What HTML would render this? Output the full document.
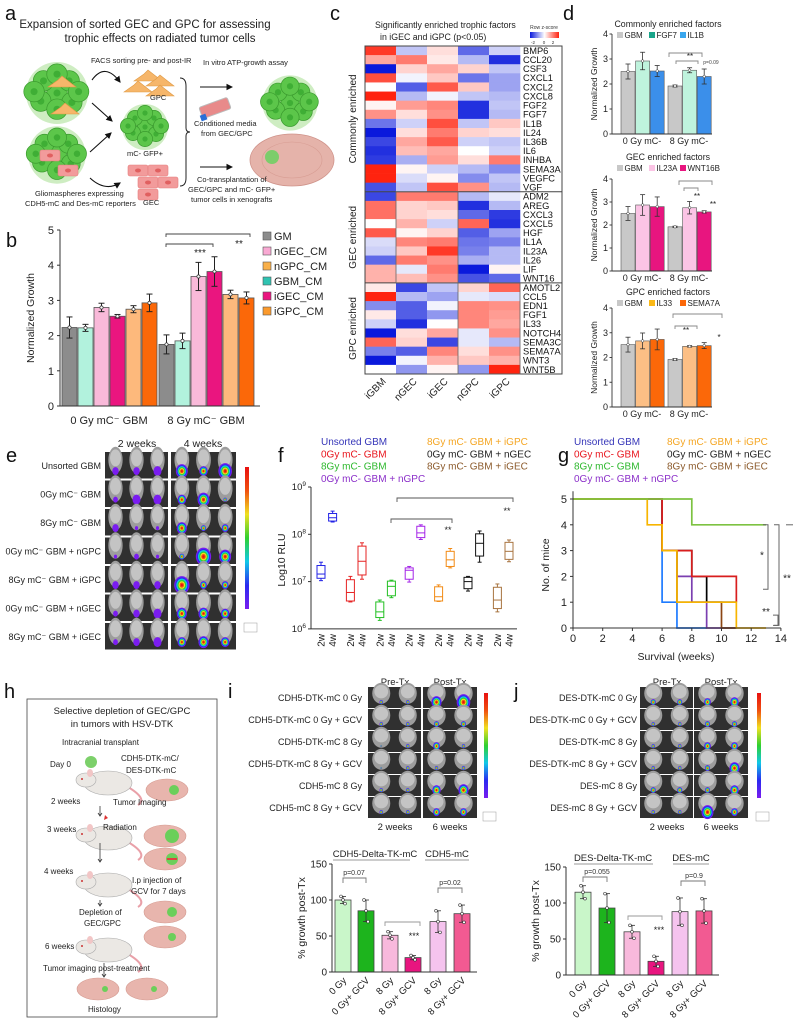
<!DOCTYPE html>
<html><head><meta charset="utf-8">
<style>
body{margin:0;background:#fff}
svg{display:block;font-family:"Liberation Sans",Arial,sans-serif}
</style></head>
<body>
<svg id="fig" width="793" height="1019" viewBox="0 0 793 1019" xmlns="http://www.w3.org/2000/svg">
<rect width="793" height="1019" fill="#fff"/>
<g font-size="20" fill="#111">
<text x="5" y="20">a</text><text x="6" y="247">b</text><text x="330" y="20">c</text><text x="563" y="20">d</text>
<text x="6" y="462">e</text><text x="278" y="462">f</text><text x="558" y="462">g</text>
<text x="4" y="698">h</text><text x="228" y="698">i</text><text x="514" y="698">j</text>
</g>
<g id="aart"></g>
<g fill="#222">
<text x="145" y="28" font-size="11.5" text-anchor="middle">Expansion of sorted GEC and GPC for assessing</text>
<text x="160" y="42" font-size="11.5" text-anchor="middle">trophic effects on radiated tumor cells</text>
<text x="91" y="63" font-size="7.5">FACS sorting pre- and post-IR</text>
<text x="203" y="65" font-size="7.5">In vitro ATP-growth assay</text>
<text x="150" y="100" font-size="7.5">GPC</text>
<text x="127" y="156" font-size="7.5">mC- GFP+</text>
<text x="143" y="205" font-size="7.5">GEC</text>
<text x="35" y="196" font-size="7.5">Gliomaspheres expressing</text>
<text x="25" y="206" font-size="7.5">CDH5-mC and Des-mC reporters</text>
<text x="194" y="126" font-size="7.5">Conditioned media</text>
<text x="201" y="136" font-size="7.5">from GEC/GPC</text>
<text x="197" y="182" font-size="7.5">Co-transplantation of</text>
<text x="188" y="192" font-size="7.5">GEC/GPC and mC- GFP+</text>
<text x="191" y="202" font-size="7.5">tumor cells in xenografts</text>
</g>
<rect x="27" y="699" width="190" height="318" fill="none" stroke="#444" stroke-width="0.8"/>
<g id="hart"></g>
<g fill="#222" font-size="8">
<text x="122" y="714" font-size="9.5" text-anchor="middle">Selective depletion of GEC/GPC</text>
<text x="122" y="727" font-size="9.5" text-anchor="middle">in tumors with HSV-DTK</text>
<text x="62" y="745">Intracranial transplant</text>
<text x="50" y="767">Day 0</text>
<text x="121" y="761">CDH5-DTK-mC/</text>
<text x="126" y="773">DES-DTK-mC</text>
<text x="51" y="804">2 weeks</text>
<text x="113" y="805">Tumor Imaging</text>
<text x="47" y="832">3 weeks</text>
<text x="103" y="830">Radiation</text>
<text x="44" y="874">4 weeks</text>
<text x="132" y="883">I.p injection of</text>
<text x="131" y="894">GCV for 7 days</text>
<text x="79" y="915">Depletion of</text>
<text x="84" y="926">GEC/GPC</text>
<text x="45" y="949">6 weeks</text>
<text x="43" y="971">Tumor imaging post-treatment</text>
<text x="88" y="1012">Histology</text>
</g>
<g id="charts"></g>
</svg>
<script>
// ===== DATA =====
const bGroups = ['0 Gy mC\u207B GBM', '8 Gy mC\u207B GBM'];
const bSeries = ['GM', 'GBM_CM', 'nGEC_CM', 'iGEC_CM', 'nGPC_CM', 'iGPC_CM'];
const bVals0 = [2.23, 2.22, 2.80, 2.55, 2.75, 2.93];
const bVals8 = [1.75, 1.85, 3.68, 3.82, 3.17, 3.07];
const bErr0 = [0.30, 0.10, 0.12, 0.05, 0.10, 0.25];
const bErr8 = [0.27, 0.22, 0.40, 0.42, 0.12, 0.17];
const bTicks = [0, 1, 2, 3, 4, 5];
const bLegend = ['GM', 'nGEC_CM', 'nGPC_CM', 'GBM_CM', 'iGEC_CM', 'iGPC_CM'];
const hmCols = ['iGBM', 'nGEC', 'iGEC', 'nGPC', 'iGPC'];
const hmRows = ['BMP6','CCL20','CSF3','CXCL1','CXCL2','CXCL8','FGF2','FGF7','IL1B','IL24','IL36B','IL6','INHBA','SEMA3A','VEGFC','VGF',
 'ADM2','AREG','CXCL3','CXCL5','HGF','IL1A','IL23A','IL26','LIF','WNT16',
 'AMOTL2','CCL5','EDN1','FGF1','IL33','NOTCH4','SEMA3C','SEMA7A','WNT3','WNT5B'];
const hmVals = [
[1.8,-0.5,0.3,-1.3,-0.4],[0.8,1.2,0.2,-0.6,-1.8],[-2,0.4,0.8,0.4,-0.5],[1.6,-0.1,0.5,-1.2,-0.8],
[0,-1.4,1.5,0.5,-0.8],[2,-0.6,-0.1,-0.5,-0.6],[0.1,0.9,1.1,-1.8,-0.5],[1.0,0.3,1.0,-1.8,-0.6],
[-1.2,-0.4,1.6,-0.5,0.5],[-2,0.3,1.2,0.4,0.3],[-1.6,0.8,1.5,-0.4,-0.5],[-1.8,0.6,0.8,0,-0.4],
[-1.7,-0.7,0.9,0.3,1.2],[2,0.1,-0.4,-0.6,-1.0],[2,-0.3,0.1,-1.0,-0.5],[-1.5,-0.5,1.6,1.0,-0.6],
[-1.6,1.2,1.2,-0.6,-0.2],[1.3,0.4,0.5,-1.8,-0.6],[1.3,0.4,0.3,-1.3,-1.7],[0,0.7,-0.4,1.4,-1.8],
[1.5,0.1,0.4,-1.4,-0.8],[-0.3,1.1,1.2,-1.2,-1.1],[-0.4,0.5,1.8,-1.1,-0.6],[-1.3,1.2,1.0,-0.7,-0.6],
[0.7,-0.2,1.2,-2,0.1],[0.7,0.6,1.0,-1.5,-1.3],
[0.2,-1.6,-0.5,0.4,1.4],[2,-0.6,-0.8,-0.2,-0.3],[-1.0,-1.4,-0.1,1.1,1.0],[0.2,-1.4,-0.9,1.1,0.9],
[-0.4,-1.8,0,1.1,0.8],[-2,0.3,0.8,-0.2,1.0],[1.4,0.4,-1.6,-0.2,-0.6],[-1.1,-1.4,1.1,0.3,1.0],
[-2,-0.1,0.7,0.5,0.7],[0,-0.9,0.1,-0.9,2]];
const hmGroups = ['Commonly enriched', 'GEC enriched', 'GPC enriched'];
const hmGroupSizes = [16, 10, 10];
const dTitles = ['Commonly enriched factors', 'GEC enriched factors', 'GPC enriched factors'];
const dLegend1 = ['GBM', 'FGF7', 'IL1B'];
const dLegend2 = ['GBM', 'IL23A', 'WNT16B'];
const dLegend3 = ['GBM', 'IL33', 'SEMA7A'];
const dGroups = ['0 Gy mC-', '8 Gy mC-'];
const dVals1 = [[2.5, 2.92, 2.52], [1.92, 2.55, 2.3]];
const dErr1 = [[0.3, 0.35, 0.22], [0.04, 0.1, 0.3]];
const dVals2 = [[2.5, 2.87, 2.8], [1.92, 2.75, 2.57]];
const dErr2 = [[0.3, 0.45, 0.42], [0.03, 0.27, 0.05]];
const dVals3 = [[2.52, 2.67, 2.73], [1.92, 2.45, 2.48]];
const dErr3 = [[0.3, 0.32, 0.42], [0.04, 0.03, 0.12]];
const dTicks = [0, 1, 2, 3, 4];
const fCats = ['2w','4w','2w','4w','2w','4w','2w','4w','2w','4w','2w','4w','2w','4w'];
const fWhiskHi = [7.41,8.49,7.11,7.82,6.61,7.03,7.32,8.20,6.93,7.70,7.11,8.07,6.95,7.88];
const fQ3 =      [7.34,8.44,7.04,7.75,6.57,7.01,7.29,8.17,6.89,7.64,7.09,8.01,6.88,7.83];
const fMed =     [7.16,8.35,6.77,7.43,6.36,6.90,7.24,8.03,6.68,7.46,7.00,7.81,6.61,7.64];
const fQ1 =      [7.07,8.28,6.59,7.14,6.24,6.70,7.05,7.93,6.59,7.32,6.85,7.54,6.43,7.47];
const fWhiskLo = [7.02,8.26,6.57,7.05,6.18,6.66,6.99,7.89,6.58,7.29,6.80,7.41,6.36,7.42];
const fTicks = [6, 7, 8, 9];
const fLegendL = ['Unsorted GBM', '0Gy mC- GBM', '8Gy mC- GBM', '0Gy mC- GBM + nGPC'];
const fLegendR = ['8Gy mC- GBM + iGPC', '0Gy mC- GBM + nGEC', '8Gy mC- GBM + iGEC'];
const gTimesBlue = [0, 6, 7, 9];        const gCountsBlue = [5, 1, 0, 0];
const gTimesRed = [0, 6, 8, 11];        const gCountsRed = [5, 3, 2, 1];
const gTimesPurple = [0, 6, 7, 8, 9, 11]; const gCountsPurple = [5, 3, 2, 1, 0, 0];
const gTimesBlack = [0, 6, 8, 9, 11];   const gCountsBlack = [5, 3, 2, 1, 1];
const gTimesBrown = [0, 6, 7, 10, 11];  const gCountsBrown = [5, 3, 1, 0, 0];
const gTimesYellow = [0, 5, 6, 7, 11, 13]; const gCountsYellow = [5, 4, 3, 1, 0, 0];
const gTimesGreen = [0, 8, 13];         const gCountsGreen = [5, 4, 4];
const gXTicks = [0, 2, 4, 6, 8, 10, 12, 14];
const gYTicks = [0, 1, 2, 3, 4, 5];
const ijCats = ['0 Gy', '0 Gy+ GCV', '8 Gy', '8 Gy+ GCV', '8 Gy', '8 Gy+ GCV'];
const iVals = [100, 85, 51, 20, 70, 81];
const iErr = [5, 15, 5, 3, 15, 12];
const jVals = [115, 93, 60, 19, 88, 89];
const jErr = [9, 20, 9, 7, 19, 17];
const ijTicks = [0, 50, 100, 150];
const iRowLabels = ['CDH5-DTK-mC 0 Gy','CDH5-DTK-mC 0 Gy + GCV','CDH5-DTK-mC 8 Gy','CDH5-DTK-mC 8 Gy + GCV','CDH5-mC 8 Gy','CDH5-mC 8 Gy + GCV'];
const jRowLabels = ['DES-DTK-mC 0 Gy','DES-DTK-mC 0 Gy + GCV','DES-DTK-mC 8 Gy','DES-DTK-mC 8 Gy + GCV','DES-mC 8 Gy','DES-mC 8 Gy + GCV'];
const eRowLabels = ['Unsorted GBM','0Gy mC\u207B GBM','8Gy mC\u207B GBM','0Gy mC\u207B GBM + nGPC','8Gy mC\u207B GBM + iGPC','0Gy mC\u207B GBM + nGEC','8Gy mC\u207B GBM + iGEC'];

// ===== HELPERS =====
const NS = 'http://www.w3.org/2000/svg';
const root = document.getElementById('charts');
function el(tag, attrs, parent) {
  const e = document.createElementNS(NS, tag);
  for (const k in attrs) e.setAttribute(k, attrs[k]);
  (parent || root).appendChild(e);
  return e;
}
function txt(x, y, s, size, anchor, fill, parent, extra) {
  const t = el('text', Object.assign({x: x, y: y, 'font-size': size, 'text-anchor': anchor || 'start', fill: fill || '#222'}, extra || {}), parent);
  t.textContent = s;
  return t;
}
function line(x1, y1, x2, y2, stroke, w, parent) {
  return el('line', {x1: x1, y1: y1, x2: x2, y2: y2, stroke: stroke || '#333', 'stroke-width': w || 1}, parent);
}
function bracket(x1, x2, y, drop, parent, color) {
  const p = el('path', {d: `M${x1},${y + drop}V${y}H${x2}V${y + drop}`, fill: 'none', stroke: color || '#555', 'stroke-width': 0.9}, parent);
  
  
  return p;
}

// ===== PANEL B =====
(function () {
  const g = el('g', {});
  
  
  const y0 = 406, unit = 35.2, ax = 60, axEnd = 260;
  const y = v => y0 - v * unit;
  const colors = ['#8c8c8c', '#b2f2dd', '#f9b9d9', '#ea157f', '#fdb97c', '#fb6809'];
  const starts = [62, 159];
  const vals = [bVals0, bVals8], errs = [bErr0, bErr8];
  vals.forEach((vs, gi) => {
    vs.forEach((v, i) => {
      const x = starts[gi] + i * 16;
      const r = el('rect', {x: x, y: y(v), width: 15, height: y0 - y(v), fill: colors[i], stroke: '#555', 'stroke-width': 0.8}, g);
      
      
      const cx = x + 7.5, e = errs[gi][i];
      line(cx, y(v + e), cx, y(v - e), '#222', 1, g);
      line(cx - 3, y(v + e), cx + 3, y(v + e), '#222', 1, g);
      line(cx - 3, y(v - e), cx + 3, y(v - e), '#222', 1, g);
      el('circle', {cx: cx, cy: y(v), r: 1.6, fill: '#fff', stroke: '#333', 'stroke-width': 0.7}, g);
    });
    txt(starts[gi] + 47, 424, bGroups[gi], 11, 'middle', '#222', g);
  });
  line(ax, y(5), ax, y0, '#333', 1, g);
  line(ax, y0, axEnd, y0, '#333', 1, g);
  bTicks.forEach(t => {
    line(ax - 3, y(t), ax, y(t), '#333', 1, g);
    txt(ax - 6, y(t) + 4, String(t), 11, 'end', '#222', g);
  });
  const yt = txt(34, 318, 'Normalized Growth', 10.5, 'middle', '#222', g, {transform: 'rotate(-90 34 318)'});
  
  
  bracket(166, 250, 234, 3, g, '#444');
  bracket(166, 213, 244, 3, g, '#444');
  txt(239, 247, '**', 10, 'middle', '#222', g);
  txt(200, 256, '***', 10, 'middle', '#222', g);
  const lcol = ['#8c8c8c', '#f9a9d3', '#f9b04a', '#2fc3b1', '#ea157f', '#fb9a2c'];
  bLegend.forEach((s, i) => {
    const ly = 236 + i * 15;
    const r = el('rect', {x: 263, y: ly - 4, width: 8, height: 8, fill: lcol[i], stroke: '#555', 'stroke-width': 0.6}, g);
    
    
    txt(274, ly + 4, s, 11, 'start', '#222', g);
  });
})();

// ===== PANEL C HEATMAP =====
(function () {
  const g = el('g', {});
  
  
  const x0 = 365, y0 = 46, cw = 31, rh = 328 / hmRows.length;
  function col(z) {
    const t = Math.max(-1, Math.min(1, z / 2));
    let r, gg, b;
    if (t < 0) { const a = -t; r = 255 - a * 245; gg = 255 - a * 230; b = 255 - a * 35; }
    else { const a = t; r = 255; gg = 255 - a * 220; b = 255 - a * 240; }
    return `rgb(${r | 0},${gg | 0},${b | 0})`;
  }
  hmVals.forEach((row, ri) => {
    row.forEach((v, ci) => {
      const r = el('rect', {x: x0 + ci * cw, y: y0 + ri * rh, width: cw + 0.3, height: rh + 0.3, fill: col(v)}, g);
      
      
    });
    txt(x0 + 5 * cw + 3, y0 + ri * rh + rh - 1.2, hmRows[ri], 9.3, 'start', '#111', g);
  });
  el('rect', {x: x0, y: y0, width: 197, height: 328, fill: 'none', stroke: '#444', 'stroke-width': 1}, g);
  let acc = 0;
  hmGroups.forEach((name, gi) => {
    const top = y0 + acc * rh, h = hmGroupSizes[gi] * rh;
    if (gi > 0) line(x0, top, x0 + 197, top, '#444', 1, g);
    const cy = top + h / 2;
    const t = txt(356, cy, name, 10, 'middle', '#222', g, {transform: `rotate(-90 356 ${cy})`});
    
    
    acc += hmGroupSizes[gi];
  });
  el('rect', {x: x0 + cw, y: y0 + 16 * rh, width: 2 * cw, height: 10 * rh, fill: 'none', stroke: '#666', 'stroke-width': 0.8}, g);
  el('rect', {x: x0 + 3 * cw, y: y0 + 26 * rh, width: 2 * cw, height: 10 * rh, fill: 'none', stroke: '#666', 'stroke-width': 0.8}, g);
  hmCols.forEach((c, ci) => {
    const cx = x0 + ci * cw + cw / 2 + 6, cy = 382;
    const t = txt(cx, cy, c, 10, 'end', '#222', g, {transform: `rotate(-45 ${cx} ${cy})`});
    
    
  });
  txt(375, 28, 'Significantly enriched trophic factors', 8.8, 'start', '#222', g);
  txt(380, 40, 'in iGEC and iGPC (p<0.05)', 8.8, 'start', '#222', g);
  const defs = el('defs', {}, g);
  const lg = el('linearGradient', {id: 'zgrad', x1: 0, x2: 1, y1: 0, y2: 0}, defs);
  el('stop', {offset: '0', 'stop-color': '#0a19dc'}, lg);
  el('stop', {offset: '0.5', 'stop-color': '#ffffff'}, lg);
  el('stop', {offset: '1', 'stop-color': '#ff2310'}, lg);
  const cb = el('rect', {x: 530, y: 32, width: 29, height: 6, fill: 'url(#zgrad)'}, g);
  
  
  txt(544, 29, 'Row z-score', 5, 'middle', '#333', g);
  txt(533, 44, '-2', 4.5, 'middle', '#333', g);
  txt(544, 44, '0', 4.5, 'middle', '#333', g);
  txt(553, 44, '2', 4.5, 'middle', '#333', g);
})();

// ===== PANEL D =====
function dChart(vals, errs, legend, title, y0, unit, titleY, colors, lcolors, sigs, name) {
  const g = el('g', {});
  
  
  const ax = 612, y = v => y0 - v * unit;
  txt(668, titleY, title, 8.8, 'middle', '#222', g);
  const lx = [617, 649, 680];
  legend.forEach((s, i) => {
    const r = el('rect', {x: lx[i], y: titleY + 5, width: 6, height: 6, fill: lcolors[i]}, g);
    
    
    txt(lx[i] + 7.5, titleY + 11, s, 8, 'start', '#222', g);
  });
  const starts = [621, 668];
  vals.forEach((vs, gi) => {
    vs.forEach((v, i) => {
      const x = starts[gi] + i * 14.6;
      const r = el('rect', {x: x, y: y(v), width: 14, height: y0 - y(v), fill: colors[i], stroke: '#555', 'stroke-width': 0.6}, g);
      
      
      const cx = x + 7, e = errs[gi][i];
      line(cx, y(v + e), cx, y(v - e), '#333', 0.8, g);
      line(cx - 2.5, y(v + e), cx + 2.5, y(v + e), '#333', 0.8, g);
      line(cx - 2.5, y(v - e), cx + 2.5, y(v - e), '#333', 0.8, g);
      el('circle', {cx: cx, cy: y(v), r: 1.3, fill: '#fff', stroke: '#333', 'stroke-width': 0.5}, g);
    });
    txt(starts[gi] + 21, y0 + 10, dGroups[gi], 9, 'middle', '#222', g);
  });
  line(ax, y(4), ax, y0, '#333', 0.9, g);
  line(ax, y0, 712, y0, '#333', 0.9, g);
  dTicks.forEach(t => {
    line(ax - 2.5, y(t), ax, y(t), '#333', 0.9, g);
    txt(ax - 4, y(t) + 3, String(t), 9, 'end', '#222', g);
  });
  const cy = y(2);
  txt(597, cy, 'Normalized Growth', 8.5, 'middle', '#222', g, {transform: `rotate(-90 597 ${cy})`});
  sigs(g, y);
}
dChart(dVals1, dErr1, dLegend1, dTitles[0], 134, 25, 27, ['#c8c8c8', '#bff3dd', '#3b8fea'], ['#c8c8c8', '#1aa58a', '#3aa7ee'], (g, y) => {
  bracket(669, 702, 53, 4, g, '#888'); bracket(676, 698, 61, 3, g, '#888');
  txt(690, 59, '**', 8, 'middle', '#222', g); txt(711, 64, 'p=0.09', 5, 'middle', '#444', g);
}, 'panel-d-common-chart');
dChart(dVals2, dErr2, dLegend2, dTitles[1], 271, 23, 160, ['#c8c8c8', '#fbc4e5', '#e8157f'], ['#c8c8c8', '#fbc4e5', '#e8157f'], (g, y) => {
  bracket(679, 712, 181, 4, g, '#888'); bracket(684, 698, 188, 3, g, '#888');
  txt(697, 199, '**', 8, 'middle', '#222', g); txt(713, 207, '**', 8, 'middle', '#222', g);
}, 'panel-d-gec-chart');
dChart(dVals3, dErr3, dLegend3, dTitles[2], 407, 24.75, 295, ['#c8c8c8', '#fcbf85', '#fb6809'], ['#c8c8c8', '#fbb917', '#fb6809'], (g, y) => {
  bracket(673, 722, 314, 4, g, '#888'); bracket(675, 697, 326, 3, g, '#888');
  txt(686, 333, '**', 8, 'middle', '#222', g); txt(719, 340, '*', 8, 'middle', '#222', g);
}, 'panel-d-gpc-chart');

// ===== MOUSE IMAGING =====
const hotColors = ['#7a1cf0', '#2a2af0', '#10c8e8', '#30d030', '#f0e020', '#f05010', '#e81010'];
function blob(cx, cy, r, hot, parent) {
  if (r <= 0) return;
  if (!hot) { el('ellipse', {cx: cx, cy: cy, rx: r * 0.8, ry: r, fill: '#7a1cf0'}, parent); return; }
  const n = hotColors.length;
  for (let k = 0; k < n; k++) {
    const f = 1 - k / n;
    el('ellipse', {cx: cx, cy: cy, rx: r * 0.85 * f, ry: r * f, fill: hotColors[k]}, parent);
  }
}
function imgBlock(x, y, w, h, sizes, hot, name) {
  const g = el('g', {});
  
  
  el('rect', {x: x, y: y, width: w, height: h, fill: '#303030'}, g);
  const n = sizes.length, sw = w / n;
  sizes.forEach((s, k) => {
    const cx = x + sw * (k + 0.5);
    el('ellipse', {cx: cx, cy: y + h * 0.3, rx: sw * 0.34, ry: h * 0.5, fill: '#9d9d9d'}, g);
    el('ellipse', {cx: cx, cy: y + h * 0.22, rx: sw * 0.26, ry: h * 0.32, fill: '#c4c4c4'}, g);
    blob(cx, y + h * 0.72, s, hot, g);
  });
}
function colorBar(x, y, h, name) {
  const defs = el('defs', {});
  const id = 'cb' + name;
  const lg = el('linearGradient', {id: id, x1: 0, x2: 0, y1: 1, y2: 0}, defs);
  hotColors.forEach((c, i) => el('stop', {offset: String(i / (hotColors.length - 1)), 'stop-color': c}, lg));
  const r = el('rect', {x: x, y: y, width: 4, height: h, fill: `url(#${id})`});
  
  
  el('rect', {x: x - 1, y: y + h + 14, width: 13, height: 9, fill: '#fff', stroke: '#999', 'stroke-width': 0.5});
}
const e2w = [[4,4,5],[3,5,5],[4,2,2],[2,3,2],[4,4,4],[3,4,5],[3,4,5]];
const e4w = [[7,5,8],[5,7,2],[6,3,4],[3,9,7],[9,4,4],[6,6,5],[5,6,5]];
txt(137, 447, '2 weeks', 10.5, 'middle', '#222');
txt(203, 447, '4 weeks', 10.5, 'middle', '#222');
eRowLabels.forEach((s, i) => {
  const yy = 452 + i * 28.5;
  imgBlock(105, yy, 63, 26.5, e2w[i], false, 'e-image-2w-row' + i);
  imgBlock(171, yy, 65, 26.5, e4w[i], true, 'e-image-4w-row' + i);
  txt(101, yy + 17, s, 9, 'end', '#222');
});
colorBar(245, 467, 142, 'e-colorbar');

const iPre = [[2,2],[2,2],[1,2],[1,2],[2,2],[2,2]];
const iPost = [[6,8],[3,3],[4,2],[2,2],[5,6],[4,4]];
const jPre = [[3,3],[2,2],[2,2],[2,2],[3,3],[2,2]];
const jPost = [[4,5],[3,3],[4,4],[3,6],[3,5],[7,4]];
function ijImages(lbls, pre, post, xLab, xPre, xPost, cbx, prefix) {
  txt(xPre + 27, 685, 'Pre-Tx', 9.5, 'middle', '#222');
  txt(xPost + 27, 685, 'Post-Tx', 9.5, 'middle', '#222');
  lbls.forEach((s, i) => {
    const yy = 687 + i * 22;
    imgBlock(xPre, yy, 53, 21, pre[i], true, prefix + '-pre-row' + i);
    imgBlock(xPost, yy, 54, 21, post[i], true, prefix + '-post-row' + i);
    txt(xLab, yy + 14, s, 9, 'end', '#222');
  });
  txt(xPre + 27, 830, '2 weeks', 9.5, 'middle', '#222');
  txt(xPost + 27, 830, '6 weeks', 9.5, 'middle', '#222');
  colorBar(cbx, 693, 105, prefix + '-colorbar');
}
ijImages(iRowLabels, iPre, iPost, 362, 368, 423, 484, 'i');
ijImages(jRowLabels, jPre, jPost, 637, 640, 694, 757, 'j');

// ===== PANEL F =====
(function () {
  const g = el('g', {});
  
  
  const ax = 311, yTop = 487, dec = 47.3;
  const y = v => yTop + (9 - v) * dec;
  const x = i => 321 + Math.floor(i / 2) * 29.4 + (i % 2) * 11.6;
  const cols = ['#2323e6', '#e62323', '#22c022', '#a424e8', '#f28a14', '#111111', '#a87440'];
  line(ax, y(9), ax, y(6), '#333', 1, g);
  line(ax, y(6), 517, y(6), '#333', 1, g);
  fTicks.forEach(t => {
    line(ax - 3, y(t), ax, y(t), '#333', 1, g);
    const tt = txt(ax - 5, y(t) + 3, '10', 9.5, 'end', '#222', g);
    const sp = el('tspan', {dy: -4, 'font-size': 6.5}, tt);
    sp.textContent = String(t);
  });
  fCats.forEach((c, i) => {
    const cx = x(i), col = cols[Math.floor(i / 2)];
    const b = el('g', {}, g);
    
    
    line(cx, y(fWhiskHi[i]), cx, y(fWhiskLo[i]), col, 1, b);
    line(cx - 2, y(fWhiskHi[i]), cx + 2, y(fWhiskHi[i]), col, 1, b);
    line(cx - 2, y(fWhiskLo[i]), cx + 2, y(fWhiskLo[i]), col, 1, b);
    el('rect', {x: cx - 4, y: y(fQ3[i]), width: 8, height: y(fQ1[i]) - y(fQ3[i]), fill: '#fff', stroke: col, 'stroke-width': 1}, b);
    line(cx - 4, y(fMed[i]), cx + 4, y(fMed[i]), col, 1, b);
    txt(cx + 3.5, 634, c, 10, 'end', '#222', g, {transform: `rotate(-90 ${cx + 3.5} 634)`});
  });
  txt(285, 560, 'Log10 RLU', 10.5, 'middle', '#222', g, {transform: 'rotate(-90 285 560)'});
  bracket(397, 513, 498, 4, g, '#555');
  bracket(391, 452, 519, 4, g, '#555');
  txt(507, 514, '**', 9, 'middle', '#222', g);
  txt(448, 533, '**', 9, 'middle', '#222', g);
  const lcolL = ['#3535b8', '#e8141c', '#2db82d', '#8b2fc9'];
  const lcolR = ['#f5a623', '#222222', '#8b5a2b'];
  fLegendL.forEach((s, i) => txt(321, 445 + i * 12.3, s, 10, 'start', lcolL[i], g));
  fLegendR.forEach((s, i) => txt(427, 445 + i * 12.3, s, 10, 'start', lcolR[i], g));
})();

// ===== PANEL G =====
(function () {
  const g = el('g', {});
  
  
  const ax = 573, y0 = 628, unit = 25.8, wk = 14.85;
  const x = t => ax + t * wk, y = v => y0 - v * unit;
  const series = [
    ['unsorted', gTimesBlue, gCountsBlue, '#1e7bff'],
    ['0gy-ngec', gTimesBlack, gCountsBlack, '#000000'],
    ['0gy-ngpc', gTimesPurple, gCountsPurple, '#7b3fb0'],
    ['8gy-igec', gTimesBrown, gCountsBrown, '#8b4513'],
    ['0gy', gTimesRed, gCountsRed, '#d81e1e'],
    ['8gy-igpc', gTimesYellow, gCountsYellow, '#f7b500'],
    ['8gy', gTimesGreen, gCountsGreen, '#7dc242']];
  series.forEach(([nm, ts, cs, col]) => {
    let d = `M${x(ts[0])},${y(cs[0])}`;
    for (let k = 1; k < ts.length; k++) d += `H${x(ts[k])}V${y(cs[k])}`;
    const p = el('path', {d: d, fill: 'none', stroke: col, 'stroke-width': 1.7}, g);
    
    
  });
  line(ax, y(5.3), ax, y0, '#333', 1, g);
  line(ax, y0, x(14), y0, '#333', 1, g);
  gYTicks.forEach(t => { line(ax - 3, y(t), ax, y(t), '#333', 1, g); txt(ax - 6, y(t) + 4, String(t), 11, 'end', '#222', g); });
  gXTicks.forEach(t => { line(x(t), y0, x(t), y0 + 3, '#333', 1, g); txt(x(t), y0 + 14, String(t), 11, 'middle', '#222', g); });
  txt(676, 660, 'Survival (weeks)', 10.5, 'middle', '#222', g);
  txt(549, 565, 'No. of  mice', 10.5, 'middle', '#222', g, {transform: 'rotate(-90 549 565)'});
  const br = (x1, y1, y2) => el('path', {d: `M${x1 - 5},${y1}H${x1}V${y2}H${x1 - 5}`, fill: 'none', stroke: '#666', 'stroke-width': 1}, g);
  br(768, y(4), y(1.5)); txt(762, y(2.7), '*', 10, 'middle', '#222', g);
  br(779, y(4), y(0.1)); txt(787, y(1.8), '**', 10, 'middle', '#222', g);
  br(778, y(0.5), y(0.1)); txt(766, y(0.5), '**', 10, 'middle', '#222', g);
  el('path', {d: `M786,${y(4)}H793`, fill: 'none', stroke: '#666', 'stroke-width': 1}, g);
  const lcolL = ['#3535b8', '#e8141c', '#2db82d', '#8b2fc9'];
  const lcolR = ['#f5a623', '#222222', '#8b5a2b'];
  const gl = ['Unsorted GBM', '0Gy mC- GBM', '8Gy mC- GBM', '0Gy mC- GBM + nGPC'];
  const gr = ['8Gy mC- GBM + iGPC', '0Gy mC- GBM + nGEC', '8Gy mC- GBM + iGEC'];
  gl.forEach((s, i) => txt(574, 445 + i * 12.3, s, 10, 'start', lcolL[i], g));
  gr.forEach((s, i) => txt(667, 445 + i * 12.3, s, 10, 'start', lcolR[i], g));
})();

// ===== PANEL I / J BARS =====
function ijChart(vals, errs, ax, axEnd, starts, y0, labelsCfg, name) {
  const g = el('g', {});
  
  
  const unit = 0.72, y = v => y0 - v * unit;
  const colors = ['#c9f6c9', '#1db41d', '#f8b9dc', '#e8157f', '#f5c3ee', '#f25a92'];
  vals.forEach((v, i) => {
    const x = starts[i];
    const r = el('rect', {x: x, y: y(v), width: 16, height: y0 - y(v), fill: colors[i], stroke: '#444', 'stroke-width': 0.8}, g);
    
    
    const cx = x + 8, e = errs[i];
    line(cx, y(v + e), cx, y(v - e), '#333', 0.8, g);
    line(cx - 3, y(v + e), cx + 3, y(v + e), '#333', 0.8, g);
    line(cx - 3, y(v - e), cx + 3, y(v - e), '#333', 0.8, g);
    el('circle', {cx: cx, cy: y(v), r: 1.4, fill: '#fff', stroke: '#333', 'stroke-width': 0.6}, g);
    el('circle', {cx: cx - 2, cy: y(v + e), r: 1.4, fill: '#fff', stroke: '#333', 'stroke-width': 0.6}, g);
    el('circle', {cx: cx + 2, cy: y(v - e), r: 1.4, fill: '#fff', stroke: '#333', 'stroke-width': 0.6}, g);
    const lx = cx + 4, ly = y0 + 9;
    txt(lx, ly, ijCats[i], 9.5, 'end', '#222', g, {transform: `rotate(-45 ${lx} ${ly})`});
  });
  line(ax, y(150), ax, y0, '#333', 1, g);
  line(ax, y0, axEnd, y0, '#333', 1, g);
  ijTicks.forEach(t => { line(ax - 3, y(t), ax, y(t), '#333', 1, g); txt(ax - 5, y(t) + 3.5, String(t), 10, 'end', '#222', g); });
  const cy = y(75);
  txt(ax - 27, cy, '% growth post-Tx', 10.5, 'middle', '#222', g, {transform: `rotate(-90 ${ax - 27} ${cy})`});
  labelsCfg(g, y);
}
ijChart(iVals, iErr, 332, 477, [335, 358, 382, 405, 430, 454], 972, (g, y) => {
  txt(375, 857, 'CDH5-Delta-TK-mC', 9.5, 'middle', '#222', g); line(333, 860, 410, 860, '#777', 0.8, g);
  txt(447, 857, 'CDH5-mC', 9.5, 'middle', '#222', g); line(425, 860, 469, 860, '#777', 0.8, g);
  bracket(343, 366, 878, 5, g, '#777'); txt(354, 875, 'p=0.07', 7, 'middle', '#333', g);
  bracket(438, 462, 888, 5, g, '#777'); txt(450, 885, 'p=0.02', 7, 'middle', '#333', g);
  bracket(385, 420, 922, 4, g, '#999'); txt(414, 939, '***', 9, 'middle', '#222', g);
}, 'panel-i-bar-chart');
ijChart(jVals, jErr, 566, 719, [575, 599, 624, 648, 672, 696], 975, (g, y) => {
  txt(613, 861, 'DES-Delta-TK-mC', 9.5, 'middle', '#222', g); line(574, 864, 653, 864, '#777', 0.8, g);
  txt(691, 861, 'DES-mC', 9.5, 'middle', '#222', g); line(673, 864, 709, 864, '#777', 0.8, g);
  bracket(583, 607, 877, 5, g, '#777'); txt(597, 874, 'p=0.055', 7, 'middle', '#333', g);
  bracket(681, 705, 881, 5, g, '#777'); txt(694, 878, 'p=0.9', 7, 'middle', '#333', g);
  bracket(628, 662, 916, 4, g, '#999'); txt(659, 933, '***', 9, 'middle', '#222', g);
}, 'panel-j-bar-chart');

// ===== PANEL A ILLUSTRATION =====
(function () {
  const g = document.getElementById('aart');
  function cluster(cx, cy, r) {
    el('circle', {cx: cx, cy: cy, r: r * 1.15, fill: '#b9e6a8', opacity: 0.7}, g);
    const pts = [[0, 0], [-0.5, -0.45], [0.45, -0.45], [-0.6, 0.3], [0.55, 0.35], [0, 0.6], [0, -0.7], [-0.85, -0.05], [0.8, -0.05]];
    pts.forEach(([dx, dy]) => {
      el('circle', {cx: cx + dx * r, cy: cy + dy * r, r: r * 0.38, fill: '#5cc64a', stroke: '#3a9a2e', 'stroke-width': 0.7}, g);
      el('circle', {cx: cx + dx * r, cy: cy + dy * r, r: r * 0.13, fill: '#3fae35'}, g);
    });
  }
  function gpc(cx, cy) {
    el('path', {d: `M${cx - 14},${cy + 4}L${cx - 4},${cy - 3}L${cx},${cy - 7}L${cx + 5},${cy - 3}L${cx + 14},${cy + 4}Z`, fill: '#f6b66a', stroke: '#e09a45', 'stroke-width': 0.6}, g);
  }
  function gec(x, y) { el('rect', {x: x, y: y, width: 20, height: 11, rx: 2, fill: '#f29b9b', stroke: '#e57f7f', 'stroke-width': 0.6}, g); el('ellipse', {cx: x + 10, cy: y + 5.5, rx: 3, ry: 2, fill: '#e06060'}, g); }
  function arrow(d) { el('path', {d: d, fill: 'none', stroke: '#111', 'stroke-width': 1.1, 'marker-end': 'url(#ah)'}, g); }
  const defs = el('defs', {}, g);
  const m = el('marker', {id: 'ah', markerWidth: 6, markerHeight: 6, refX: 5, refY: 3, orient: 'auto'}, defs);
  el('path', {d: 'M0,0L6,3L0,6Z', fill: '#111'}, m);
  cluster(57, 93, 27); gpc(62, 83); gpc(65, 110);
  cluster(57, 155, 25); gec(40, 150); gec(58, 165);
  gpc(148, 77); gpc(160, 82); gpc(138, 88); gpc(160, 92);
  cluster(145, 127, 20);
  gec(128, 165); gec(148, 165); gec(138, 177); gec(158, 177); gec(138, 189);
  arrow('M92,80Q105,62 120,82'); arrow('M92,103L112,121'); arrow('M90,152L111,133'); arrow('M90,178Q105,192 120,183');
  el('path', {d: 'M180,78Q186,78 186,86V128Q186,132 190,132Q186,132 186,136V178Q186,186 180,186', fill: 'none', stroke: '#222', 'stroke-width': 1}, g);
  arrow('M200,87L232,87'); arrow('M200,167L232,167');
  el('rect', {x: 200, y: 102, width: 30, height: 12, rx: 2, fill: '#e88a8a', stroke: '#bbb', transform: 'rotate(-20 215 108)'}, g);
  el('rect', {x: 198, y: 110, width: 6, height: 6, fill: '#2a6fd6', transform: 'rotate(-20 215 108)'}, g);
  cluster(290, 103, 24);
  el('ellipse', {cx: 292, cy: 160, rx: 42, ry: 26, fill: '#e5b3aa', stroke: '#cf938a', 'stroke-width': 0.8}, g);
  el('ellipse', {cx: 292, cy: 160, rx: 30, ry: 18, fill: 'none', stroke: '#d79c92', 'stroke-width': 0.6}, g);
  el('circle', {cx: 272, cy: 157, r: 7, fill: '#7ccd6b'}, g);
})();

// ===== PANEL H ILLUSTRATION =====
(function () {
  const g = document.getElementById('hart');
  function mouse(cx, cy) {
    el('path', {d: `M${cx + 20},${cy + 4}Q${cx + 40},${cy + 16} ${cx + 30},${cy + 22}`, fill: 'none', stroke: '#e9a0a8', 'stroke-width': 2}, g);
    el('ellipse', {cx: cx, cy: cy, rx: 24, ry: 12, fill: '#ebe8e4', stroke: '#aaa', 'stroke-width': 0.6}, g);
    el('ellipse', {cx: cx - 22, cy: cy - 3, rx: 10, ry: 7, fill: '#ebe8e4', stroke: '#aaa', 'stroke-width': 0.6}, g);
    el('circle', {cx: cx - 26, cy: cy - 4, r: 1, fill: '#c33'}, g);
    el('ellipse', {cx: cx - 18, cy: cy - 10, rx: 3, ry: 4, fill: '#f2c6c6'}, g);
  }
  function brain(cx, cy, green, red) {
    el('ellipse', {cx: cx, cy: cy, rx: 21, ry: 11, fill: '#e8b5ad', stroke: '#d49a90', 'stroke-width': 0.6}, g);
    if (green) el('circle', {cx: cx + 7, cy: cy, r: green, fill: '#6bcf5a'}, g);
    if (red) el('rect', {x: cx + 2, y: cy - 1, width: 10, height: 2, fill: '#e04040'}, g);
  }
  mouse(108, 783); brain(167, 790, 5); el('circle', {cx: 91, cy: 762, r: 6, fill: '#7cd06a'}, g);
  mouse(108, 838); brain(165, 836, 7); brain(165, 859, 6, true);
  mouse(108, 885); mouse(108, 950);
  brain(165, 912, 5); brain(165, 937, 4);
  brain(98, 989, 3); brain(147, 989, 3);
  [[100, 806, 816], [100, 843, 862], [100, 900, 906], [104, 963, 977]].forEach(([x, a, b]) => {
    el('path', {d: `M${x},${a}V${b}`, stroke: '#333', 'stroke-width': 0.8}, g);
    el('path', {d: `M${x - 2},${b - 3}L${x},${b}L${x + 2},${b - 3}`, fill: 'none', stroke: '#333', 'stroke-width': 0.8}, g);
  });
  el('path', {d: 'M105,815L108,818L104,820Z', fill: '#d33'}, g);
})();
</script>
</body></html>
